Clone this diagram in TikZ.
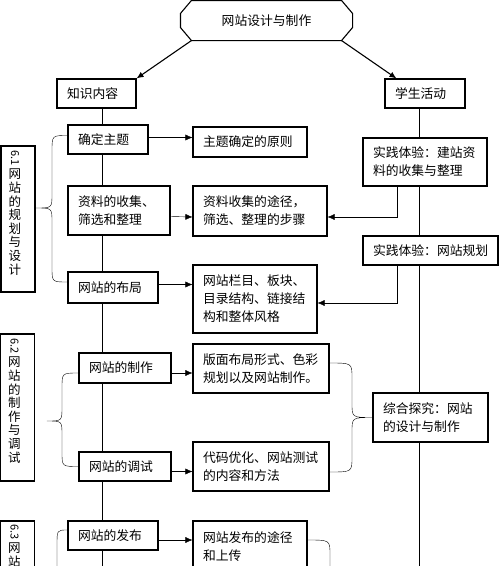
\documentclass[tikz,border=0pt]{standalone}
\usepackage{fontspec}
\setmainfont{Noto Sans CJK SC}
\usetikzlibrary{arrows.meta,positioning,backgrounds}

\tikzset{
    kbox/.style={draw, fill=white, inner xsep=10pt, inner ysep=0pt, align=left,
        font=\fontsize{12.8}{18}\selectfont},
    sbox/.style={draw, fill=white, minimum width=34pt},
    vtext/.style={align=center, inner sep=0pt, font=\fontsize{12.5}{13.6}\selectfont},
    arr/.style={-{Latex[length=7pt,width=6pt]}}
}
\newcommand{\secnum}[1]{\raisebox{\depth}{\rotatebox{-90}{\fontsize{11}{11}\selectfont #1}}}

\begin{document}
\begin{tikzpicture}[x=1pt, y=-1pt, line width=1.1pt]
    \useasboundingbox (0,0) rectangle (500,566);
    \clip (0,0) rectangle (500,566);

    % title
    \node[minimum width=171pt, minimum height=39pt, font=\fontsize{12.8}{18}\selectfont] (top) at (266.5,20.5) {网站设计与制作};
    \draw ([xshift=11pt]top.north west) -- ([xshift=-11pt]top.north east)
        -- ([yshift=-13pt]top.north east) -- ([yshift=13pt]top.south east)
        -- ([xshift=-11pt]top.south east) -- ([xshift=11pt]top.south west)
        -- ([yshift=13pt]top.south west) -- ([yshift=-13pt]top.north west) -- cycle;

    \node[kbox, text width=59pt, minimum height=29pt] (know) at (96.5,93.5) {知识内容};
    \node[kbox, text width=60pt, minimum height=29pt] (stu) at (425,93.5) {学生活动};
    \draw[arr] ([xshift=11pt]top.south west) -- (know.north east);
    \draw[arr] ([xshift=-11pt]top.south east) -- ([xshift=12pt]stu.north west);

    % knowledge column
    \node[kbox, text width=60pt, minimum height=29pt] (t1) at (108,139.5) {确定主题};
    \node[kbox, text width=82pt, minimum height=49pt] (t2) at (119,210.5) {资料的收集、\\筛选和整理};
    \node[kbox, text width=70pt, minimum height=31pt] (t3) at (113,287.5) {网站的布局};
    \node[kbox, text width=72pt, minimum height=30pt] (t4) at (125,368) {网站的制作};
    \node[kbox, text width=72pt, minimum height=29pt] (t5) at (125,466.5) {网站的调试};
    \node[kbox, text width=70pt, minimum height=29pt] (t6) at (113,535.5) {网站的发布};

    % details
    \node[kbox, text width=94pt, minimum height=30pt] (d1) at (250,142) {主题确定的原则};
    \node[kbox, text width=114pt, minimum height=50pt] (d2) at (260,211) {资料收集的途径，\\筛选、整理的步骤};
    \node[kbox, text width=104pt, minimum height=68pt] (d3) at (255,299) {网站栏目、板块、\\目录结构、链接结\\构和整体风格};
    \node[kbox, text width=116pt, minimum height=49pt] (d4) at (261,368.5) {版面布局形式、色彩\\规划以及网站制作。};
    \node[kbox, text width=116pt, minimum height=49pt] (d5) at (261,466.5) {代码优化、网站测试\\的内容和方法};
    \node[kbox, text width=94pt, minimum height=68pt] (d6) at (250,555) {网站发布的途径\\和上传\\\mbox{}};

    % student column
    \node[kbox, text width=104pt, minimum height=48pt] (r1) at (425,162) {实践体验：建站资\\料的收集与整理};
    \node[kbox, text width=115pt, minimum height=29pt] (r2) at (430.5,250.5) {实践体验：网站规划};
    \node[kbox, text width=95pt, minimum height=49pt] (r3) at (430.5,417.5) {综合探究：网站\\的设计与制作};

    % sections
    \node[sbox, minimum height=146pt] (s1) at (18,219) {};
    \node[vtext, below=4pt of s1.north, xshift=-3pt] (s1t) {\secnum{6.1}\\网\\站\\的\\规\\划\\与\\设\\计};
    \node[sbox, minimum height=147pt] (s2) at (17.5,407.5) {};
    \node[vtext, below=4pt of s2.north, xshift=-3pt] (s2t) {\secnum{6.2}\\网\\站\\的\\制\\作\\与\\调\\试};
    \node[sbox, minimum height=148pt] (s3) at (17.5,595) {};
    \node[vtext, below=3pt of s3.north, xshift=-3pt] (s3t) {\secnum{6.3}\\网\\站};

    \coordinate (lend) at (102,566);
    \coordinate (rend) at (419,566);
    \coordinate (b1) at (36,208);
    \coordinate (b2) at (47,421);
    \coordinate (e1) at (57,566);
    \coordinate (e2) at (330,566);

    \begin{pgfonlayer}{background}
        \draw (know.south -| lend) -- (lend);
        \draw (stu.south -| rend) -- (rend);
    \end{pgfonlayer}

    \draw[arr] ([yshift=2pt]t1.east) -- ([yshift=2pt]t1.east -| d1.west);
    \draw[arr] ([yshift=-6pt]t2.east) -- ([yshift=-6pt]d2.west);
    \draw[arr] ([yshift=3pt]t3.east) -- ([yshift=3pt]t3.east -| d3.west);
    \draw[arr] ([yshift=-5pt]t4.east) -- ([yshift=-5pt]t4.east -| d4.west);
    \draw[arr] ([yshift=-5pt]t5.east) -- ([yshift=-5pt]t5.east -| d5.west);
    \draw[arr] ([yshift=-4.5pt]t6.east) -- ([yshift=-4.5pt]t6.east -| d6.west);

    \draw[arr] ([xshift=-28pt]r1.south) |- ([yshift=-6pt]d2.east);
    \draw[arr] ([xshift=-33.5pt]r2.south) |- ([yshift=-4pt]d3.east);

    % braces
    \draw ([yshift=4pt]t1.west) .. controls (52,135.5) .. (52,151) -- (52,194)
        .. controls (52,208) .. (b1) .. controls (52,208) .. (52,222) -- (52,267)
        .. controls (52,282) .. ([yshift=5.5pt]t3.west);
    \draw ([yshift=-5pt]t4.west) .. controls (62,373) .. (62,388) -- (62,407)
        .. controls (62,421) .. (b2) .. controls (62,421) .. (62,435) -- (62,452)
        .. controls (62,466.5) .. (t5.west);
    \draw ([yshift=5.5pt]d4.east) .. controls (352,363) .. (352,378) -- (352,403)
        .. controls (352,417.5) .. (r3.west) .. controls (352,417.5) .. (352,432) -- (352,457)
        .. controls (352,472) .. ([yshift=-5.5pt]d5.east);
    \draw ([yshift=5.5pt]t6.west) .. controls (57,530) .. (57,545) -- (e1);
    \draw ([yshift=15pt]d6.east) .. controls (330,540) .. (330,555) -- (e2);
\end{tikzpicture}
\end{document}
